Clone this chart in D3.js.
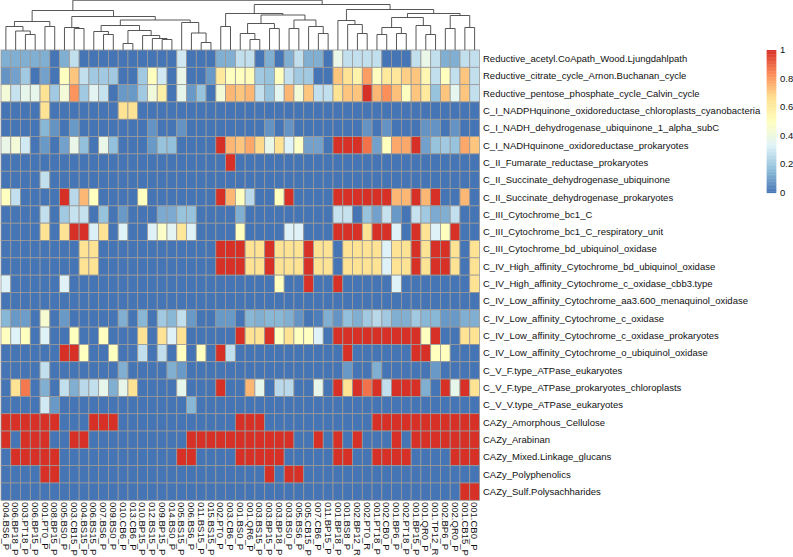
<!DOCTYPE html>
<html>
<head>
<meta charset="utf-8">
<title>Pathway heatmap</title>
<script src="https://cdn.jsdelivr.net/npm/d3@7"></script>
<style>
  html, body { margin: 0; padding: 0; background: #fff; overflow: hidden; }
  text { font-family: "Liberation Sans", Arial, sans-serif; fill: #111; }
</style>
</head>
<body>
<svg id="chart" width="793" height="557"></svg>
<script>
'use strict'

const samples = [
  '004.BS6_P', '006.BP18_P', '003.PT18_P', '006.BP15_P', '001.PT0_P', '008.BP15_P', '005.BS0_P', '003.CB15_P', '004.BS15_P', '006.BS15_P',
  '007.BS6_P', '009.BS0_P', '010.CB6_P', '013.CB6_P', '010.BP15_P', '012.BS15_P', '009.BP15_P', '014.BS0_P', '005.BS15_P', '006.BS6_P',
  '011.BS15_P', '015.BS15_P', '002.PT0_P', '003.CB6_P', '001.BS0_P', '001.QR6_P', '003.BS15_P', '003.BP15_P', '003.BP18_P', '003.BS0_P',
  '005.BS6_P', '005.CB15_P', '007.CB6_P', '011.BP15_P', '001.BP18_P', '001.BS8_P', '002.BP12_R', '002.PT0_R', '001.PT18_P', '002.CB0_P',
  '001.BP6_P', '002.PT18_P', '001.BP15_P', '001.QR0_P', '001.TP12_R', '002.BP6_P', '002.QR0_P', '001.CB15_P', '001.CB0_P'
]

const pathways = [
  'Reductive_acetyl.CoApath_Wood.Ljungdahlpath',
  'Reductive_citrate_cycle_Arnon.Buchanan_cycle',
  'Reductive_pentose_phosphate_cycle_Calvin_cycle',
  'C_I_NADPHquinone_oxidoreductase_chloroplasts_cyanobacteria',
  'C_I_NADH_dehydrogenase_ubiquinone_1_alpha_subC',
  'C_I_NADHquinone_oxidoreductase_prokaryotes',
  'C_II_Fumarate_reductase_prokaryotes',
  'C_II_Succinate_dehydrogenase_ubiquinone',
  'C_II_Succinate_dehydrogenase_prokaryotes',
  'C_III_Cytochrome_bc1_C',
  'C_III_Cytochrome_bc1_C_respiratory_unit',
  'C_III_Cytochrome_bd_ubiquinol_oxidase',
  'C_IV_High_affinity_Cytochrome_bd_ubiquinol_oxidase',
  'C_IV_High_affinity_Cytochrome_c_oxidase_cbb3.type',
  'C_IV_Low_affinity_Cytochrome_aa3.600_menaquinol_oxidase',
  'C_IV_Low_affinity_Cytochrome_c_oxidase',
  'C_IV_Low_affinity_Cytochrome_c_oxidase_prokaryotes',
  'C_IV_Low_affinity_Cytochrome_o_ubiquinol_oxidase',
  'C_V_F.type_ATPase_eukaryotes',
  'C_V_F.type_ATPase_prokaryotes_chloroplasts',
  'C_V_V.type_ATPase_eukaryotes',
  'CAZy_Amorphous_Cellulose',
  'CAZy_Arabinan',
  'CAZy_Mixed.Linkage_glucans',
  'CAZy_Polyphenolics',
  'CAZy_Sulf.Polysachharides'
]

// one row per pathway, columns in sample order, ten values to a group
const abundance = [
  [.13,.13,.13,.13,.13,0,.13,.27,0,0,  0,0,0,0,0,0,0,0,.3,0,  0,0,.13,.13,.27,.27,0,.13,0,.13,  .27,.13,.13,0,.38,.27,.27,.27,.27,0,  0,0,.27,.38,.27,.13,.13,.27,.27],
  [.07,.1,.2,0,.1,0,.5,.72,.27,.2,  .2,.2,0,0,.2,.5,.3,0,.38,0,  0,.08,.62,.5,.5,.52,.2,.18,.5,.27,  .2,.2,0,0,.72,.65,.57,.8,.5,.62,  .63,.7,.72,.55,.27,.5,.27,.72,.27],
  [.43,.28,.37,.37,.65,.2,.43,.82,.2,.35,  .28,0,.08,.08,.2,.42,.58,0,.37,.08,  .18,0,.43,.75,.72,.75,.27,.18,.36,.75,  .43,.72,.27,.27,.65,.72,.72,1,.75,.83,  .73,.5,.72,.62,.18,.72,.36,.72,.27],
  [0,0,0,0,.65,0,0,0,0,0,  0,0,.65,.65,0,0,0,0,0,0,  0,0,0,0,0,0,0,0,0,0,  0,0,0,0,0,0,0,0,0,0,  0,0,0,0,0,0,0,0,0],
  [0,0,0,0,.15,.07,0,.08,0,0,  0,0,0,0,0,.07,0,0,.07,0,  0,0,0,0,0,0,0,.07,0,.07,  0,0,0,0,0,0,0,.07,0,.07,  0,0,0,.07,.07,0,.07,0,0],
  [.38,.43,.3,0,.08,0,.1,.38,.17,0,  .38,.17,0,0,0,.08,.18,.17,0,0,  0,0,1,.75,.72,.78,.68,.38,.65,.33,  .48,.1,.1,0,1,1,1,.88,.1,.5,  .78,.78,1,.1,.18,.2,.18,.78,.72],
  [0,0,0,0,0,0,0,0,0,0,  0,0,0,0,0,0,0,0,0,0,  0,0,0,1,0,0,0,0,0,0,  0,0,0,0,0,0,0,0,0,0,  0,0,0,0,0,0,0,0,0],
  [0,0,0,0,.27,0,0,0,0,0,  0,0,0,0,0,0,0,0,0,0,  0,0,0,0,0,0,0,0,0,0,  0,0,0,0,0,0,0,0,0,0,  0,0,0,0,0,0,0,0,0],
  [.5,.27,0,0,0,0,1,.25,.75,.5,  0,0,0,0,.5,0,0,0,0,0,  0,0,1,.75,.5,.25,0,0,.5,1,  0,0,0,0,1,1,1,1,1,1,  .75,.75,1,.75,1,0,0,.75,0],
  [0,0,0,0,.27,0,.2,.28,.28,0,  .18,0,.08,0,0,0,.12,.12,.18,.18,  0,0,0,0,.13,0,0,0,0,0,  0,0,0,0,.28,.28,0,.18,.1,.28,  .08,0,.28,.2,.12,.13,.27,0,0],
  [0,0,0,0,.65,0,.65,1,1,.32,  .65,0,.33,0,0,.33,.48,.35,.63,.33,  0,0,0,0,.5,0,0,0,0,.33,  .33,0,0,0,1,1,1,.65,1,1,  .33,0,1,.65,.33,.5,1,0,0],
  [0,0,0,0,0,0,0,0,.65,.65,  0,0,0,0,0,0,0,0,0,0,  0,0,1,1,1,.65,.65,1,.65,.65,  .65,1,.65,.65,0,.65,.65,.65,.65,.33,  .65,.65,1,.65,1,1,.65,0,.65],
  [0,0,0,0,0,0,0,0,.65,.65,  0,0,0,0,0,0,0,0,0,0,  0,0,1,1,1,.65,.65,1,.65,.65,  .65,1,.65,.65,0,.65,.65,.65,.65,.33,  .65,.65,1,.65,1,1,.65,0,.65],
  [.33,0,0,0,0,0,.33,0,0,0,  0,0,0,0,0,0,0,0,0,0,  0,0,0,0,0,0,0,0,.5,0,  0,1,0,0,1,0,0,0,0,0,  .33,0,0,0,0,0,0,0,.65],
  [0,0,0,0,0,0,0,0,0,0,  0,0,0,0,0,0,0,0,0,0,  0,0,0,0,0,0,0,0,0,0,  0,0,0,0,0,0,0,0,0,0,  0,0,0,0,0,0,0,0,0],
  [.15,.08,.09,0,.45,0,.08,0,0,0,  0,0,.13,0,.15,0,.2,.15,.27,.08,  0,0,.08,.08,0,.15,.13,.15,.15,.13,  .07,0,.02,.13,.07,.17,.13,.2,.25,.2,  .13,.13,.2,.15,.15,.08,.08,.13,.13],
  [.5,.33,.5,0,.33,0,0,.5,0,0,  .5,0,0,0,.65,0,.65,.33,.65,0,  0,0,0,0,1,.65,.65,1,.5,.65,  .5,.5,.33,0,1,1,1,1,1,1,  1,1,1,.5,1,0,0,.65,.65],
  [0,0,0,0,0,0,1,1,.5,0,  0,.5,0,0,.27,0,.27,0,.5,0,  .5,0,1,.27,0,0,0,0,0,0,  0,0,0,0,0,1,0,0,0,0,  0,0,1,1,.5,.5,0,0,0],
  [0,0,0,0,.27,0,0,0,0,0,  0,0,.13,0,0,0,0,.13,.08,0,  0,0,0,0,0,0,0,0,0,0,  0,0,0,0,0,.08,0,0,.13,0,  0,0,0,0,.08,0,0,0,0],
  [0,.65,.87,0,.13,0,.27,.13,.25,.27,  .37,.13,.37,.65,0,0,0,0,.37,0,  0,0,1,0,0,.75,.37,0,.25,.25,  0,0,.37,0,1,.65,1,.88,1,.27,  1,1,1,.13,0,1,.37,1,.65],
  [0,0,0,0,.3,.08,0,0,0,0,  0,0,0,0,0,0,0,0,0,.15,  0,0,0,0,0,0,0,0,0,0,  0,0,0,0,0,0,0,0,0,0,  0,0,0,0,0,0,0,0,0],
  [1,1,1,1,1,1,0,0,0,1,  1,1,0,0,0,0,0,0,0,0,  0,0,0,0,1,1,1,0,0,0,  0,0,0,0,0,0,0,0,1,1,  1,1,1,1,1,1,1,1,1],
  [1,0,1,1,1,0,0,1,1,0,  0,0,0,0,0,0,0,0,0,1,  1,1,1,1,1,1,1,1,1,1,  0,0,1,0,1,0,1,0,0,0,  1,0,1,1,1,1,1,1,1],
  [0,1,1,1,1,1,0,0,0,0,  0,0,0,0,0,0,0,0,1,1,  0,0,0,0,1,1,1,1,1,0,  0,0,0,0,1,1,0,0,1,1,  1,1,0,0,0,0,1,1,1],
  [0,0,0,0,1,1,0,0,0,0,  0,0,0,0,0,0,0,0,0,0,  0,0,0,0,0,0,0,1,0,1,  1,0,0,0,0,0,0,0,0,0,  0,0,0,0,0,0,0,0,0],
  [0,0,0,0,0,0,0,0,0,0,  0,0,0,0,0,0,0,0,0,0,  0,0,0,0,0,0,0,0,0,0,  0,0,0,0,0,0,0,0,0,0,  0,0,0,0,0,0,0,1,1]
]

// column clustering: [merge height, left, right], a bare number is a sample index
const columnTree = [.995,
  [.79,
    [.57, [.47, 0, [.38, 1, [.31, 2, 3]]], [.47, 4, 5]],
    [.67,
      [.45, 6, [.43, 7, 8]],
      [.60,
        [.49,
          [.37, 9, [.31, 10, 11]],
          [.39, [.13, 12, 13], [.29, 14, [.23, 15, [.21, 16, 17]]]]],
        [.55, 18, [.34, 19, [.15, 20, 21]]]]]],
  [.91,
    [.73,
      [.47, 22, 23],
      [.70,
        [.53, [.33, 24, [.21, 25, 26]], [.43, 27, 28]],
        [.60, [.43, 29, 30], [.47, 31, [.33, 32, 33]]]]],
    [.81,
      [.59, 34, [.51, 35, [.33, 36, 37]]],
      [.73,
        [.65,
          [.45, [.31, 38, 39], [.33, 40, 41]],
          [.49, 42, [.31, 43, 44]]],
        [.69, [.43, 45, 46], [.45, 47, 48]]]]]]

const legendTicks = [0, 0.2, 0.4, 0.6, 0.8, 1]
const paletteStops = ['#4575b4', '#91bfdb', '#e0f3f8', '#ffffbf', '#fee090', '#fc8d59', '#d73027']

const svg = d3.select('#chart')

const color = d3.scaleLinear()
  .domain(paletteStops.map((c, i) => i / (paletteStops.length - 1)))
  .range(paletteStops)

const x = d3.scaleBand().domain(d3.range(samples.length)).range([1, 479.5])
const y = d3.scaleBand().domain(d3.range(pathways.length)).range([50, 500.3])

// heatmap cells
const rows = svg.append('g').attr('class', 'cells')
  .selectAll('g')
  .data(abundance)
  .join('g')

rows.selectAll('rect')
  .data((values, r) => values.map((value, c) => ({ value, r, c })))
  .join('rect')
  .attr('x', d => x(d.c))
  .attr('y', d => y(d.r))
  .attr('width', x.bandwidth())
  .attr('height', y.bandwidth())
  .attr('fill', d => color(d.value))
  .attr('stroke', '#999')
  .attr('stroke-width', 0.8)

// row labels
svg.append('g')
  .selectAll('text')
  .data(pathways)
  .join('text')
  .attr('x', 483)
  .attr('y', (d, i) => y(i) + y.bandwidth() / 2)
  .attr('dy', '0.35em')
  .attr('font-size', 9.5)
  .text(d => d)

// column labels read downwards
svg.append('g')
  .selectAll('text')
  .data(samples)
  .join('text')
  .attr('transform', (d, i) => `translate(${x(i) + x.bandwidth() / 2},502) rotate(90)`)
  .attr('dy', '0.35em')
  .attr('font-size', 9.5)
  .text(d => d)

// dendrogram
const heightScale = d3.scaleLinear().domain([0, 1]).range([50, 0])
const root = d3.hierarchy(columnTree, d => Array.isArray(d) ? d.slice(1) : null)

root.eachAfter(node => {
  if (node.children) {
    node.cx = d3.mean(node.children, child => child.cx)
    node.cy = heightScale(node.data[0])
  } else {
    node.cx = x(node.data) + x.bandwidth() / 2
    node.cy = heightScale(0)
  }
})

svg.append('g')
  .selectAll('path')
  .data(root.descendants().filter(node => node.children))
  .join('path')
  .attr('fill', 'none')
  .attr('stroke', '#444')
  .attr('stroke-width', 0.9)
  .attr('d', node => {
    const [a, b] = node.children
    const path = d3.path()
    path.moveTo(a.cx, a.cy)
    path.lineTo(a.cx, node.cy)
    path.lineTo(b.cx, node.cy)
    path.lineTo(b.cx, b.cy)
    return path.toString()
  })

// colour legend
const legendY = d3.scaleLinear().domain([0, 1]).range([192.7, 50])
const legendSteps = d3.range(0, 1, 0.01)

svg.append('g')
  .selectAll('rect')
  .data(legendSteps)
  .join('rect')
  .attr('x', 766.7)
  .attr('width', 9.6)
  .attr('y', d => legendY(d + 0.01))
  .attr('height', d => legendY(d) - legendY(d + 0.01) + 0.4)
  .attr('fill', d => color(d + 0.005))

svg.append('g')
  .selectAll('text')
  .data(legendTicks)
  .join('text')
  .attr('x', 780)
  .attr('y', d => legendY(d))
  .attr('dy', '0.35em')
  .attr('font-size', 9.5)
  .text(d => d)
</script>
</body>
</html>
